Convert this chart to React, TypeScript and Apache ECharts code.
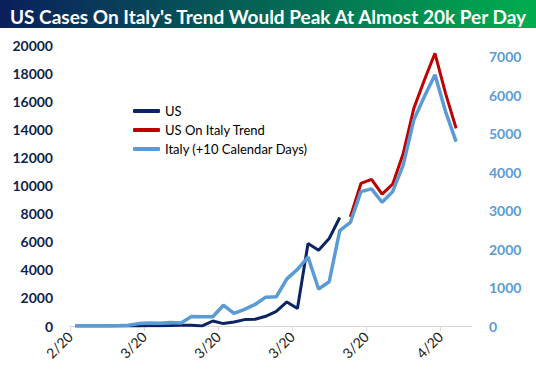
import React, { useEffect, useRef } from "react";
import * as echarts from "echarts";

// Day positions: Feb 26, 2020 .. Apr 2, 2020
const dates = [
  "2/26", "2/27", "2/28", "2/29", "3/1", "3/2", "3/3", "3/4", "3/5", "3/6",
  "3/7", "3/8", "3/9", "3/10", "3/11", "3/12", "3/13", "3/14", "3/15", "3/16",
  "3/17", "3/18", "3/19", "3/20", "3/21", "3/22", "3/23", "3/24", "3/25", "3/26",
  "3/27", "3/28", "3/29", "3/30", "3/31", "4/1", "4/2",
];
const xTickLabels = ["2/20", "3/20", "3/20", "3/20", "3/20", "4/20"];

const usValues: (number | null)[] = [
  0, 0, 0, 1, 2, 5, 5, 10, 20, 30, 50, 50, 5, 356, 171, 285, 456, 477, 691,
  1047, 1710, 1240, 5871, 5394, 6227, 7723,
];
const usItalyTrend: (number | null)[] = [
  null, null, null, null, null, null, null, null, null, null, null, null, null,
  null, null, null, null, null, null, null, null, null, null, null, null, null,
  7766, 10146, 10431, 9384, 10096, 12284, 15490, 17506, 19409, 16558, 14065,
];
const italyShifted: number[] = [
  0, 0, 0, 3, 5, 17, 62, 77, 69, 93, 78, 250, 238, 240, 540, 325, 430, 560,
  750, 760, 1225, 1470, 1790, 960, 1150, 2480, 2690, 3491, 3561, 3215, 3491,
  4185, 5355, 5960, 6525, 5571, 4791,
];

const leftTicks = { min: 0, max: 20000, interval: 2000 };
const rightTicks = { min: 0, max: 7300, interval: 1000 };

const FONT = "Lato, 'Open Sans', sans-serif";

function toPoints(vals: (number | null)[]) {
  return vals.map((v, i) => [i + 0.5, v]);
}

export default function App() {
  const ref = useRef<HTMLDivElement>(null);
  useEffect(() => {
    document.body.style.margin = "0";
    if (!ref.current) return;
    const chart = echarts.init(ref.current, null, { renderer: "svg" });
    chart.setOption({
      animation: false,
      backgroundColor: "#ffffff",
      graphic: [
        {
          type: "rect",
          z: 0,
          shape: { x: 0, y: 0, width: 536, height: 28 },
          style: {
            fill: new echarts.graphic.LinearGradient(0, 0, 1, 0, [
              { offset: 0, color: "#0a1f5c" },
              { offset: 1, color: "#00ad4e" },
            ]),
          },
        },
      ],
      title: {
        text: "US Cases On Italy's Trend Would Peak At Almost 20k Per Day",
        left: "center",
        top: 2,
        z: 10,
        textStyle: {
          color: "#ffffff",
          fontFamily: FONT,
          fontWeight: "bold",
          fontSize: 19,
        },
      },
      legend: {
        orient: "vertical",
        left: 128,
        top: 99,
        itemWidth: 27,
        itemHeight: 4,
        itemGap: 5,
        icon: "roundRect",
        data: ["US", "US On Italy Trend", "Italy (+10 Calendar Days)"],
        textStyle: {
          color: "#000000",
          fontFamily: FONT,
          fontSize: 13,
          lineHeight: 14,
        },
      },
      grid: { left: 70, right: 64, top: 45, bottom: 48 },
      xAxis: {
        type: "value",
        min: 0,
        max: 38,
        interval: 7,
        splitLine: { show: false },
        axisLine: { show: true, lineStyle: { color: "#d9d9d9", width: 1 } },
        axisTick: { show: true, length: 5, lineStyle: { color: "#d9d9d9" } },
        axisLabel: {
          rotate: 45,
          margin: 8,
          showMaxLabel: false,
          color: "#1a1a1a",
          fontFamily: FONT,
          fontSize: 14,
          formatter: (v: number) => xTickLabels[Math.round(v / 7)] ?? "",
        },
      },
      yAxis: [
        {
          type: "value",
          ...leftTicks,
          splitLine: { show: false },
          axisLine: { show: false },
          axisTick: { show: false },
          axisLabel: {
            margin: 17,
            color: "#0c1f50",
            fontFamily: FONT,
            fontWeight: "bold",
            fontSize: 14,
            formatter: (v: number) => String(v),
          },
        },
        {
          type: "value",
          ...rightTicks,
          splitLine: { show: false },
          axisLine: { show: false },
          axisTick: { show: false },
          axisLabel: {
            margin: 17,
            showMaxLabel: false,
            color: "#5b9bd5",
            fontFamily: FONT,
            fontWeight: "bold",
            fontSize: 14,
            formatter: (v: number) => String(v),
          },
        },
      ],
      series: [
        {
          name: "US",
          type: "line",
          yAxisIndex: 0,
          data: toPoints(usValues),
          showSymbol: false,
          symbol: "none",
          z: 3,
          lineStyle: { color: "#0c2463", width: 3 },
          itemStyle: { color: "#0c2463" },
        },
        {
          name: "US On Italy Trend",
          type: "line",
          yAxisIndex: 0,
          data: toPoints(usItalyTrend),
          showSymbol: false,
          symbol: "none",
          z: 3,
          lineStyle: { color: "#c00000", width: 3 },
          itemStyle: { color: "#c00000" },
        },
        {
          name: "Italy (+10 Calendar Days)",
          type: "line",
          yAxisIndex: 1,
          data: toPoints(italyShifted),
          showSymbol: false,
          symbol: "none",
          z: 4,
          lineStyle: { color: "#5b9bd5", width: 3.5 },
          itemStyle: { color: "#5b9bd5" },
        },
      ],
    });
    return () => chart.dispose();
  }, []);
  return <div ref={ref} style={{ width: 536, height: 374 }} />;
}
